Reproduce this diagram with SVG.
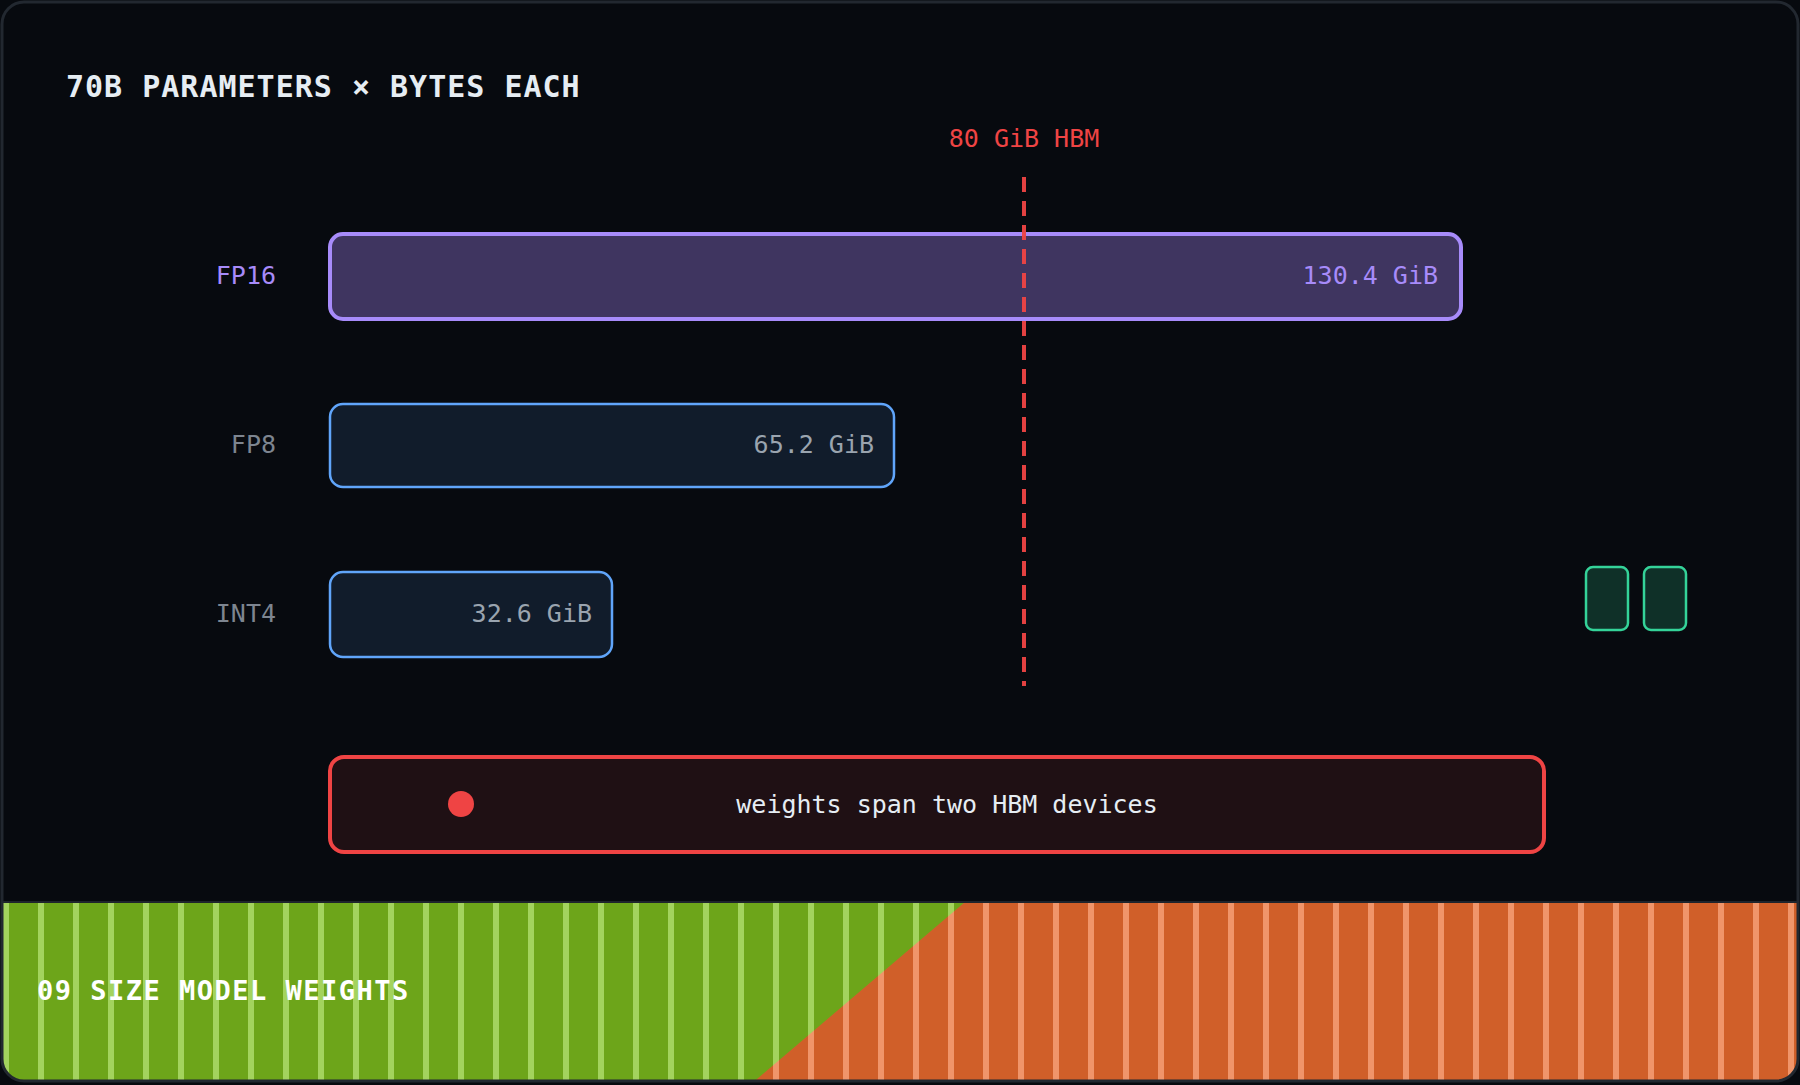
<svg xmlns="http://www.w3.org/2000/svg" width="1800" height="1085" viewBox="0 0 1800 1085">
<defs>
<style>
.mono{font-family:"DejaVu Sans Mono","Liberation Mono",monospace}
.lbl{font-size:25px;text-anchor:end;dominant-baseline:central}
.dev{fill:#0f3028;stroke:#34d399;stroke-width:2.5}
</style>
<clipPath id="frame"><rect x="2" y="2" width="1796" height="1079" rx="22"/></clipPath>
<pattern id="gs" width="35" height="20" patternUnits="userSpaceOnUse" x="3"><rect width="35" height="20" fill="#6da51a"/><rect x="35" width="0" height="20"/><rect x="0" width="6" height="20" fill="#a3d35e"/></pattern>
<pattern id="os" width="35" height="20" patternUnits="userSpaceOnUse" x="3"><rect width="35" height="20" fill="#d05f29"/><rect x="0" width="6" height="20" fill="#f0956a"/></pattern>
</defs>
<rect x="0" y="0" width="1800" height="1085" fill="#070a0f"/>
<g clip-path="url(#frame)">
<rect x="0" y="0" width="1800" height="1085" fill="#070a0f"/>
<g id="band">
<rect x="0" y="902" width="1800" height="183" fill="url(#gs)"/>
<polygon points="965,902 1800,902 1800,1085 750,1085" fill="url(#os)"/>
<line x1="0" y1="902" x2="1800" y2="902" stroke="#1e242c" stroke-width="2"/>
<text x="37" y="1000" class="mono" font-size="27" font-weight="bold" fill="#ffffff" letter-spacing="1.5">09 SIZE MODEL WEIGHTS</text>
</g>
</g>
<rect x="2" y="2" width="1796" height="1079" rx="22" fill="none" stroke="#222830" stroke-width="3"/>
<text id="title" x="66" y="97" class="mono" font-size="30" font-weight="bold" fill="#e6edf3" letter-spacing="1">70B PARAMETERS × BYTES EACH</text>
<g id="fp16">
<rect x="330" y="234" width="1131" height="85" rx="13" fill="#3f3560" stroke="#a78bfa" stroke-width="4"/>
<text x="276" y="275" class="mono lbl" fill="#a78bfa">FP16</text>
<text x="1438" y="275" class="mono lbl" fill="#a78bfa">130.4 GiB</text>
</g>
<g id="fp8">
<rect x="330" y="404" width="564" height="83" rx="13" fill="#111c2b" stroke="#60a5fa" stroke-width="2.5"/>
<text x="276" y="444" class="mono lbl" fill="#7d8590">FP8</text>
<text x="874" y="444" class="mono lbl" fill="#9aa4af">65.2 GiB</text>
</g>
<g id="int4">
<rect x="330" y="572" width="282" height="85" rx="13" fill="#111c2b" stroke="#60a5fa" stroke-width="2.5"/>
<text x="276" y="613" class="mono lbl" fill="#7d8590">INT4</text>
<text x="592" y="613" class="mono lbl" fill="#9aa4af">32.6 GiB</text>
</g>
<g id="hbm-limit">
<text x="1024" y="147" class="mono" font-size="25" fill="#ef4444" text-anchor="middle">80 GiB HBM</text>
</g>
<g id="connectors">
<line x1="1024" y1="177" x2="1024" y2="686" stroke="#ef4444" stroke-width="4" stroke-dasharray="15 9" opacity="0.95"/>
</g>
<g id="devices">
<rect class="dev" x="1586" y="567" width="42" height="63" rx="7"/>
<rect class="dev" x="1644" y="567" width="42" height="63" rx="7"/>
</g>
<g id="warning">
<rect x="330" y="757" width="1214" height="95" rx="14" fill="#1f1014" stroke="#ef4444" stroke-width="4"/>
<circle cx="461" cy="804" r="13" fill="#ef4444"/>
<text x="947" y="804" class="mono" font-size="25" fill="#e6edf3" text-anchor="middle" dominant-baseline="central">weights span two HBM devices</text>
</g>
</svg>
